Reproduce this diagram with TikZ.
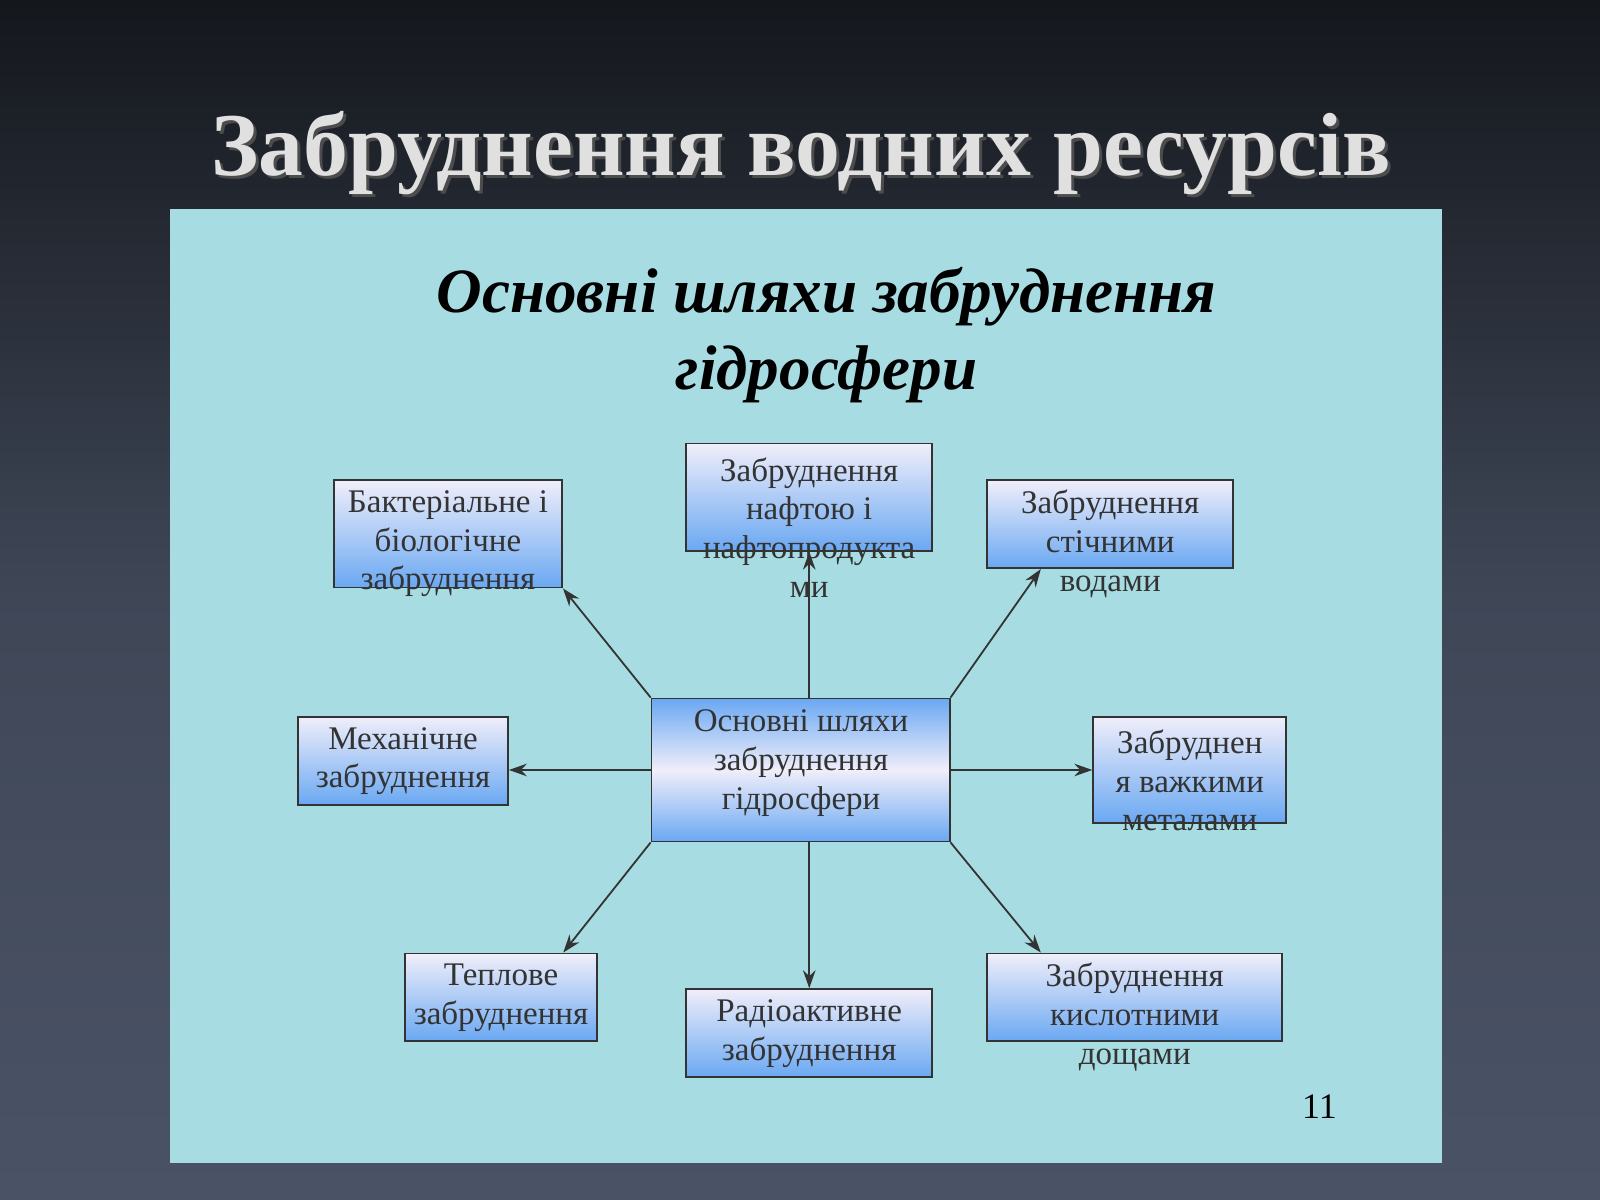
\documentclass[tikz,border=0pt]{standalone}
\usepackage{fontspec}
\setmainfont{Liberation Serif}
\usetikzlibrary{arrows.meta}
\definecolor{bgtop}{HTML}{14171C}
\definecolor{bgbot}{HTML}{4A5366}
\definecolor{panel}{HTML}{A6DCE2}
\definecolor{boxlo}{HTML}{6AA8F2}
\definecolor{boxhi}{HTML}{F0EEFA}
\tikzset{
  pbox/.style={draw=black!80,line width=0.5pt,top color=boxhi,bottom color=boxlo,inner sep=0pt},
  cbox/.style={draw=black!80,line width=0.5pt,top color=boxlo,bottom color=boxlo,middle color=boxhi,inner sep=0pt},
  btxt/.style={font=\fontsize{9.2}{10.8}\selectfont,align=center,text=black!80,inner sep=0pt},
  arr/.style={-{Stealth[length=5pt,width=3.5pt]},line width=0.5pt,black!80}
}
\newcommand{\bx}[6]{\node[#6,minimum width=#3*0.01cm-0.5pt,minimum height=#4*0.01cm-0.5pt] (#5) at ({(#1+#3/2)*0.01},{-(#2+#4/2)*0.01}) {};}
\begin{document}
\begin{tikzpicture}
\useasboundingbox (0,0) rectangle (15.68,-11.76);
\shade[top color=bgtop,bottom color=bgbot,middle color=bgbot!80!bgtop] (0,0) rectangle (15.68,-11.76);
\node[text=black!70,font=\bfseries\fontsize{25}{30}\selectfont] at (7.88,-1.53) {Забруднення водних ресурсів};
\node (title) [text=white!88!black,font=\bfseries\fontsize{25}{30}\selectfont] at (7.85,-1.5) {Забруднення водних ресурсів};
\fill[panel] (1.67,-2.05) rectangle (14.13,-11.4);
\node (sub) [font=\bfseries\itshape\fontsize{17.6}{21.5}\selectfont,align=center] at (8.1,-3.28) {Основні шляхи забруднення\\гідросфери};
\bx{327}{470}{225}{107}{b1}{pbox}
\bx{672}{434}{243}{107}{b2}{pbox}
\bx{967}{470}{243}{88}{b3}{pbox}
\bx{291}{702}{208}{88}{b4}{pbox}
\bx{638}{684}{294}{142}{c}{cbox}
\bx{1071}{702}{191}{106}{b5}{pbox}
\bx{396}{934}{190}{88}{b6}{pbox}
\bx{672}{969}{243}{88}{b7}{pbox}
\bx{967}{934}{291}{88}{b8}{pbox}
\node (t1) [btxt] at (4.39,-5.33) {Бактеріальне і\\біологічне\\забруднення};
\node (t2) [btxt] at (7.93,-5.17) {Забруднення\\нафтою і\\нафтопродукта\\ми};
\node (t3) [btxt] at (10.88,-5.33) {Забруднення\\стічними\\водами};
\node (t4) [btxt] at (3.95,-7.46) {Механічне\\забруднення};
\node (tc) [btxt] at (7.85,-7.48) {Основні шляхи\\забруднення\\гідросфери};
\node (t5) [btxt] at (11.66,-7.65) {Забруднен\\я важкими\\металами};
\node (t6) [btxt] at (4.91,-9.78) {Теплове\\забруднення};
\node (t7) [btxt] at (7.93,-10.13) {Радіоактивне\\забруднення};
\node (t8) [btxt] at (11.12,-9.97) {Забруднення\\кислотними\\дощами};
\node (pg) [font=\fontsize{10}{12}\selectfont] at (12.93,-10.85) {11};
\draw[arr] (c.north west) -- (b1.south east);
\draw[arr] (c.north-|b2) -- (b2.south);
\draw[arr] (c.north east) -- (b3.south-|10.2,0);
\draw[arr] (c.west) -- (c.west-|b4.east);
\draw[arr] (c.east) -- (c.east-|b5.west);
\draw[arr] (c.south west) -- (b6.north-|5.52,0);
\draw[arr] (c.south-|b7) -- (b7.north);
\draw[arr] (c.south east) -- (b8.north-|10.2,0);
\end{tikzpicture}
\end{document}
